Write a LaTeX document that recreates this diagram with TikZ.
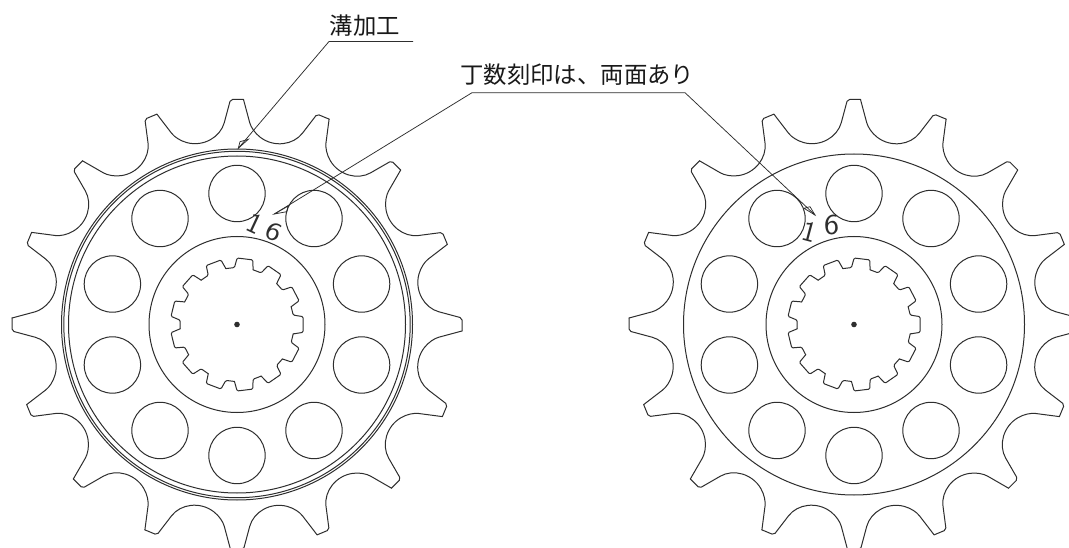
\documentclass[tikz,border=0pt]{standalone}
\usepackage{fontspec}
\setmainfont{Liberation Sans}
\newfontfamily\cjk{Noto Sans CJK JP}
\definecolor{ink}{HTML}{2E2E2E}
\tikzset{
  part/.style={draw=ink,line width=1pt,line join=round,line cap=round},
  leader/.style={draw=ink,line width=0.75pt},
  head/.style={draw=ink,line width=0.75pt,line join=miter},
  label/.style={font=\cjk\fontsize{23.4}{26}\selectfont,text=black!90,inner sep=0pt,anchor=west},
  digit/.style={font=\sffamily\fontsize{29}{30}\selectfont,text=ink,inner sep=0pt},
}
\newcommand{\sprocket}[1]{%
  \begin{scope}[shift={#1}]
    \foreach \k in {0,...,15}{
      \begin{scope}[rotate=22.5*\k]
        \draw[part,rounded corners=2pt] (225,-6.5) -- (225,6.5) -- (203.8,12.2)
          arc[start angle=255,end angle=127.5,radius=31] -- (20.846:225.09);
      \end{scope}
    }
    \foreach \k in {0,...,9}{
      \draw[part] ({90+36*\k}:131) circle[radius=28.2];
    }
    \draw[part] (0,0) circle[radius=88];
    \foreach \k in {0,...,12}{
      \begin{scope}[rotate=27.6923*\k]
        \draw[part,rounded corners=1.2pt] (-9.5:57) -- (-6.8:66.5) -- (6.8:66.5) -- (9.5:57) -- (18.19:57);
      \end{scope}
    }
    \fill[ink] (0,0) circle[radius=2.8];
  \end{scope}
}
\begin{document}
\begin{tikzpicture}[x=1pt,y=1pt]
  \useasboundingbox (0,0) rectangle (1069,547);
  \fill[white] (0,0) rectangle (1069,547);
  \clip (0,0) rectangle (1069,547);
  % left sprocket
  \sprocket{(237,222.5)}
  \draw[part] (237,222.5) circle[radius=175.5];
  \draw[part] (237,222.5) circle[radius=173.2];
  \draw[part] (237,222.5) circle[radius=168.5];
  % right sprocket
  \sprocket{(854,222.5)}
  \draw[part] (854,222.5) circle[radius=170.5];
  % engraved numbers
  \node[digit,rotate=-25] (oneL) at (255,323) {1};
  \node[digit,rotate=-25,xscale=1.1,yscale=0.9] (sixL) at (274,315) {6};
  \node[digit,rotate=-15] (oneR) at (810,315) {1};
  \node[digit,xscale=1.1,yscale=1] (sixR) at (831.5,322) {6};
  % labels
  \node[label] (groove) at (329.5,521) {溝加工};
  \node[label] (count) at (460,472) {丁数刻印は、両面あり};
  \coordinate (gA) at (329,505.5);
  \coordinate (gB) at (413,505.5);
  \coordinate (gT) at (238.3,398.7);
  \coordinate (gU) at (240,405.3);
  \coordinate (gV) at (248.3,407.7);
  \coordinate (cA) at (472,454.3);
  \coordinate (cB) at (685,454.3);
  \coordinate (cL) at (274.3,333);
  \coordinate (cLu) at (288.3,341);
  \coordinate (cLv) at (286.7,335.3);
  \coordinate (cR) at (815,332);
  \coordinate (cRu) at (804,338.7);
  \coordinate (cRv) at (810,340.3);
  \draw[leader] (gB) -- (gA) -- (gT);
  \draw[leader] (cL) -- (cA) -- (cB) -- (cR);
  \draw[head] (gT) -- (gU) -- (gV) -- cycle;
  \draw[head] (cL) -- (cLu) -- (cLv) -- cycle;
  \draw[head] (cR) -- (cRu) -- (cRv) -- cycle;
\end{tikzpicture}
\end{document}
